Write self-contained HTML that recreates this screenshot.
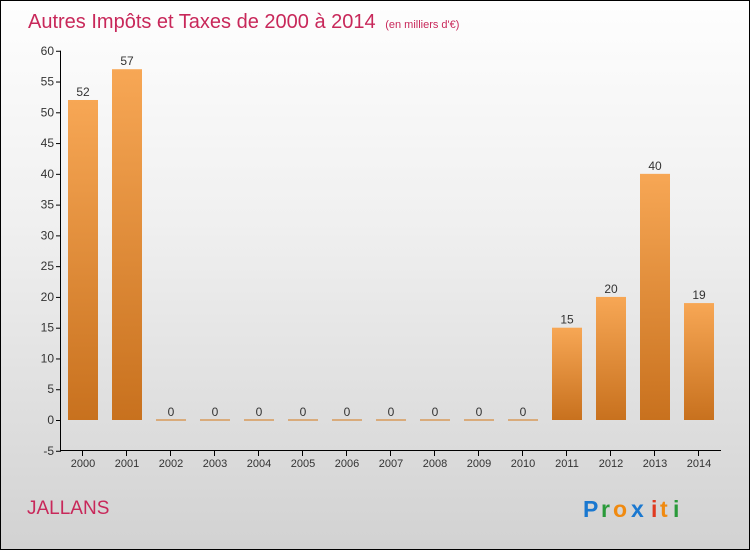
<!DOCTYPE html>
<html><head><meta charset="utf-8"><style>
body{margin:0}
#c{width:748px;height:548px;border:1px solid #000;background:linear-gradient(#fefefe,#f0f0f0 40%,#d2d2d2);position:relative;overflow:hidden;font-family:"Liberation Sans",sans-serif}
</style></head><body>
<div id="c">
<svg id="s" width="748" height="548">
<defs><linearGradient id="g" x1="0" y1="0" x2="0" y2="1"><stop offset="0" stop-color="#f7a755"/><stop offset="1" stop-color="#c8711e"/></linearGradient></defs>
<text x="27" y="27" font-size="20" fill="#c8285a">Autres Impôts et Taxes de 2000 à 2014 <tspan font-size="11" dx="4">(en milliers d'€)</tspan></text>
<text x="26" y="513" font-size="19" fill="#c8285a">JALLANS</text>
<g font-size="23" font-weight="bold">
<text x="582" y="516" fill="#1a78d0">P</text><text x="600" y="516" fill="#2a9a3a">r</text><text x="612" y="516" fill="#f08a10">o</text><text x="630" y="516" fill="#1a78d0">x</text><text x="650" y="516" fill="#e03a20">i</text><text x="659" y="516" fill="#f08a10">t</text><text x="672" y="516" fill="#2a9a3a">i</text></g>
</svg></div>
<script>
const years=["2000","2001","2002","2003","2004","2005","2006","2007","2008","2009","2010","2011","2012","2013","2014"];
const values=[52,57,0,0,0,0,0,0,0,0,0,15,20,40,19];
const yTicks=[-5,0,5,10,15,20,25,30,35,40,45,50,55,60];
const s=document.getElementById('s');const NS="http://www.w3.org/2000/svg";
const y=v=>419-(v*6.154);const x=i=>81+i*44;
function el(t,a,txt){const e=document.createElementNS(NS,t);for(const k in a)e.setAttribute(k,a[k]);if(txt!==undefined)e.textContent=txt;s.appendChild(e);return e;}
let ax=el('line',{x1:59.5,y1:y(60),x2:59.5,y2:y(-5),stroke:'#000'});


let bx=el('line',{x1:59,y1:449.5,x2:720,y2:449.5,stroke:'#000'});


yTicks.forEach(t=>{
 el('line',{x1:55,x2:60,y1:y(t)+.5,y2:y(t)+.5,stroke:'#000'});
 const l=el('text',{x:53,y:y(t)+4,'font-size':12,fill:'#333','text-anchor':'end'},t);
 
 
});
years.forEach((yr,i)=>{
 el('line',{x1:x(i)+.5,x2:x(i)+.5,y1:450,y2:455,stroke:'#000'});
 const l=el('text',{x:x(i)+1,y:466,'font-size':11,fill:'#333','text-anchor':'middle'},yr);
 
 
 const v=values[i];const h=Math.max(v*6.154,1.5);
 const b=el('rect',{x:x(i)-14,y:y(v)-(v?0:0.75),width:30,height:h,fill:v?'url(#g)':'#d79a5a'});
 
 
 const vl=el('text',{x:x(i)+1,y:y(v)-4,'font-size':12,fill:'#333','text-anchor':'middle'},v);
 
 
});
</script>
</body></html>
